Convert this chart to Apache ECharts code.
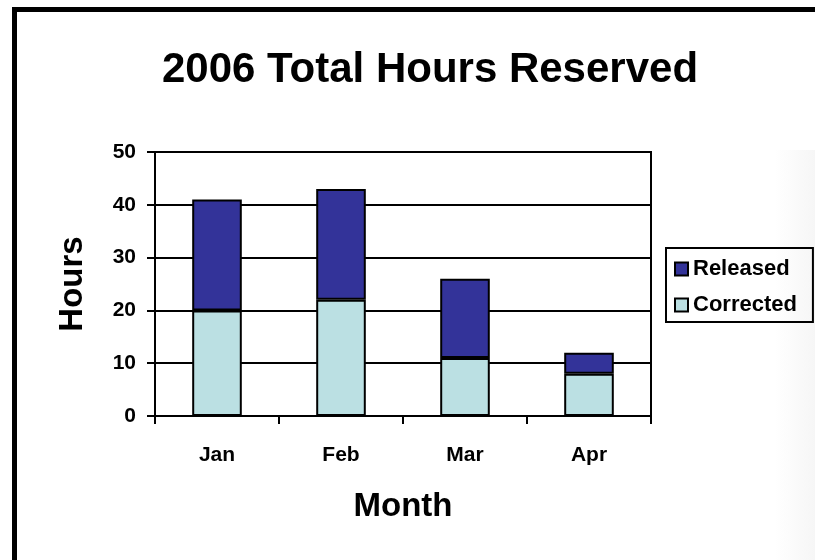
<!DOCTYPE html>
<html>
<head>
<meta charset="utf-8">
<script src="https://cdn.jsdelivr.net/npm/echarts@6/dist/echarts.min.js"></script>
<style>
  html, body { margin: 0; padding: 0; background: #fff; }
  #main { width: 815px; height: 560px; }
</style>
</head>
<body>
<div id="main"></div>
<script type="text/javascript">
// chart data
var months = ['Jan', 'Feb', 'Mar', 'Apr'];
var corrected = [20, 22, 11, 8];
var released = [21, 21, 15, 4];
var yTicks = { min: 0, max: 50, interval: 10 };

var font = 'Liberation Sans, Arial, sans-serif';
var chart = echarts.init(document.getElementById('main'));

chart.setOption({
  backgroundColor: '#ffffff',
  animation: false,
  title: {
    text: '2006 Total Hours Reserved',
    left: 425,
    top: 44,
    textAlign: 'center',
    textStyle: { fontFamily: font, fontSize: 42, fontWeight: 'bold', color: '#000' }
  },
  legend: {
    data: ['Released', 'Corrected'],
    orient: 'vertical',
    left: 666,
    top: 248,
    padding: [10, 16, 6, 8],
    itemGap: 14,
    itemWidth: 13,
    itemHeight: 13,
    icon: 'rect',
    borderColor: '#000',
    borderWidth: 2,
    textStyle: { fontFamily: font, fontSize: 22, fontWeight: 'bold', color: '#000' }
  },
  grid: {
    left: 155, top: 152, right: 164, bottom: 144,
    show: true, borderColor: '#000', borderWidth: 2, backgroundColor: 'transparent'
  },
  xAxis: {
    type: 'category',
    data: months,
    name: 'Month',
    nameLocation: 'middle',
    nameGap: 74,
    nameTextStyle: { fontFamily: font, fontSize: 33, fontWeight: 'bold', color: '#000' },
    axisLine: { lineStyle: { color: '#000', width: 2 } },
    axisTick: { show: true, length: 8, lineStyle: { color: '#000', width: 2 } },
    axisLabel: { margin: 29, fontFamily: font, fontSize: 21, fontWeight: 'bold', color: '#000' }
  },
  yAxis: {
    type: 'value',
    min: yTicks.min,
    max: yTicks.max,
    interval: yTicks.interval,
    name: 'Hours',
    nameLocation: 'middle',
    nameGap: 66,
    nameTextStyle: { fontFamily: font, fontSize: 33, fontWeight: 'bold', color: '#000' },
    axisLine: { show: true, lineStyle: { color: '#000', width: 2 } },
    axisTick: { show: true, length: 8, lineStyle: { color: '#000', width: 2 } },
    axisLabel: { margin: 19, fontFamily: font, fontSize: 21, fontWeight: 'bold', color: '#000' },
    splitLine: { show: true, lineStyle: { color: '#000', width: 2 } }
  },
  series: [
    {
      name: 'Corrected',
      type: 'bar',
      stack: 'hours',
      barWidth: '40%',
      data: corrected,
      itemStyle: { color: '#BBE0E3', borderColor: '#000', borderWidth: 2 }
    },
    {
      name: 'Released',
      type: 'bar',
      stack: 'hours',
      barWidth: '40%',
      data: released,
      itemStyle: { color: '#333399', borderColor: '#000', borderWidth: 2 }
    }
  ],
  graphic: [
    // faint shading along the right edge
    {
      type: 'rect', silent: true, z: -10,
      shape: { x: 775, y: 150, width: 40, height: 410 },
      style: {
        fill: new echarts.graphic.LinearGradient(0, 0, 1, 0, [
          { offset: 0, color: 'rgba(246,246,246,0)' },
          { offset: 1, color: 'rgba(246,246,246,1)' }
        ])
      }
    },
    // frame
    { type: 'rect', silent: true, shape: { x: 12, y: 7, width: 803, height: 5 }, style: { fill: '#000' } },
    { type: 'rect', silent: true, shape: { x: 12, y: 7, width: 5, height: 553 }, style: { fill: '#000' } }
  ]
});
</script>
</body>
</html>
